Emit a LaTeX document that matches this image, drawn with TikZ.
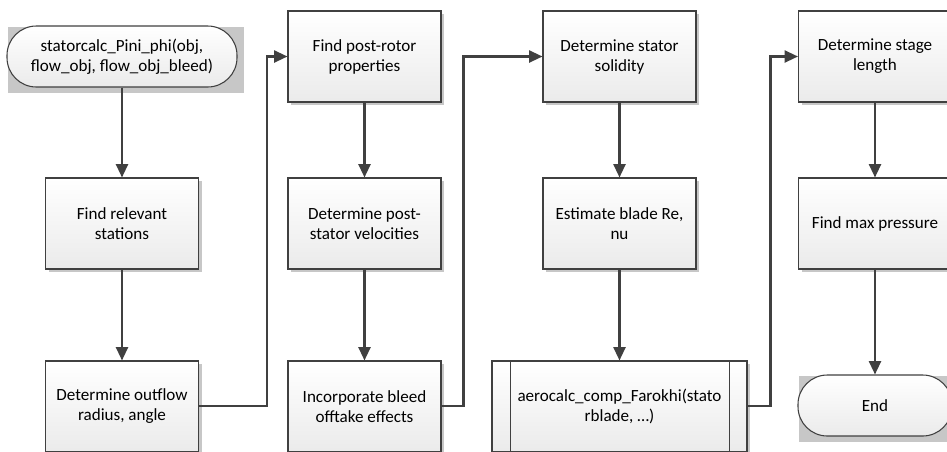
\documentclass[tikz,border=0pt]{standalone}
\usepackage{fontspec}
\setmainfont{Carlito}
\usetikzlibrary{positioning, shapes.misc, arrows.meta, calc, shadows, backgrounds}

\begin{document}
\begin{tikzpicture}[x=0.75pt, y=-0.75pt, font=\fontsize{12.8}{15}\selectfont, >={Triangle[length=10pt, width=9pt]}]
        % colours
        \colorlet{edgegray}{black!75}
        \colorlet{shadegray}{black!22}

        % common styles
        \tikzset{
            process/.style={draw=edgegray, line width=0.8pt, top color=white, bottom color=black!8,
                minimum width=114.75pt, minimum height=68.25pt, align=center, inner sep=2pt,
                drop shadow={shadow xshift=2.5pt, shadow yshift=-2.5pt, fill=shadegray, opacity=1}},
            terminal/.style={draw=edgegray, line width=0.8pt, top color=white, bottom color=black!8,
                rounded corners=22pt, minimum height=45.75pt, align=center, inner sep=2pt},
            subproc/.style={process, minimum width=191.25pt},
            flow/.style={->, draw=edgegray, line width=1.6pt}
        }

        \useasboundingbox (0,0) rectangle (947,451);
        \clip (0,0) rectangle (947,451);

        % --- column 1 ---
        \node[terminal, minimum width=172.5pt] (start) at (122,56.5) {statorcalc\_Pini\_phi(obj,\\flow\_obj, flow\_obj\_bleed)};
        \node[process] (stations) at (122,223.5) {Find relevant\\stations};
        \node[process] (outflow) at (122,406.5) {Determine outflow\\radius, angle};

        % --- column 2 ---
        \node[process] (rotor) at (364.5,56.5) {Find post-rotor\\properties};
        \node[process] (velocities) at (364.5,223.5) {Determine post-\\stator velocities};
        \node[process] (bleed) at (364.5,406.5) {Incorporate bleed\\offtake effects};

        % --- column 3 ---
        \node[process] (solidity) at (619.5,56.5) {Determine stator\\solidity};
        \node[process] (reynolds) at (619.5,223.5) {Estimate blade Re,\\nu};
        \node[subproc] (farokhi) at (619.5,406.5) {aerocalc\_comp\_Farokhi(stato\\rblade, …)};
        \draw[edgegray, line width=0.8pt] ($(farokhi.north west)+(19,0)$) -- ($(farokhi.south west)+(19,0)$);
        \draw[edgegray, line width=0.8pt] ($(farokhi.north east)+(-18,0)$) -- ($(farokhi.south east)+(-18,0)$);

        % --- column 4 ---
        \node[process] (length) at (875,56.5) {Determine stage\\length};
        \node[process] (pressure) at (875,223.5) {Find max pressure};
        \node[terminal, minimum width=115.5pt] (finish) at (875,405.5) {End};

        % flat shadows behind the terminals
        \begin{scope}[on background layer]
            \fill[shadegray] ([shift={(1.5pt,-1.5pt)}]start.north west) rectangle ([shift={(4.5pt,-4pt)}]start.south east);
            \fill[shadegray] ([shift={(1.5pt,-1.5pt)}]finish.north west) rectangle ([shift={(4.5pt,-4pt)}]finish.south east);
        \end{scope}

        % flow inside each column
        \draw[flow] (start) -- (stations);
        \draw[flow] (stations) -- (outflow);
        \draw[flow] (rotor) -- (velocities);
        \draw[flow] (velocities) -- (bleed);
        \draw[flow] (solidity) -- (reynolds);
        \draw[flow] (reynolds) -- (farokhi);
        \draw[flow] (length) -- (pressure);
        \draw[flow] (pressure) -- (finish);

        % jumps to the next column
        \draw[flow] ([yshift=0.4pt]outflow.east) -- ++(68,0) |- (rotor.west);
        \draw[flow] ([yshift=0.4pt]bleed.east) -- ++(22,0) |- (solidity.west);
        \draw[flow] ([yshift=0.4pt]farokhi.east) -- ++(23,0) |- (length.west);
    \end{tikzpicture}
\end{document}
